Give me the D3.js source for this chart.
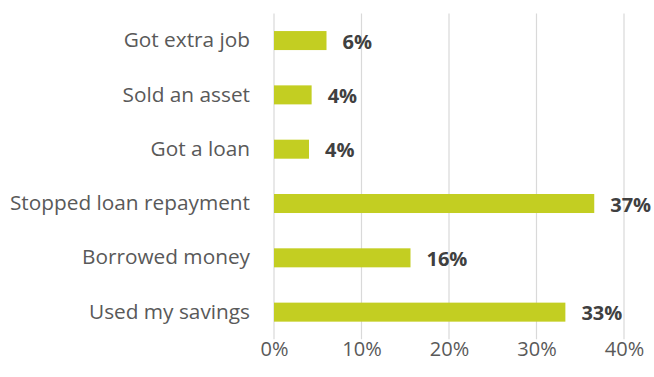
<!DOCTYPE html>
<html>
<head>
<meta charset="utf-8">
<script src="https://cdn.jsdelivr.net/npm/d3@7"></script>
<style>
  html, body { margin: 0; padding: 0; background: #fff; }
  svg { display: block; }
  text { font-family: "Open Sans", Lato, sans-serif; }
</style>
</head>
<body>
<svg id="chart" width="654" height="377"></svg>
<script>
// Coping strategies, share of respondents (%)
const categories = [
  "Got extra job",
  "Sold an asset",
  "Got a loan",
  "Stopped loan repayment",
  "Borrowed money",
  "Used my savings"
];
const values = [6.0, 4.3, 4.0, 36.6, 15.6, 33.3];
const tickValues = [0, 10, 20, 30, 40];

const svg = d3.select("#chart");
const plot = { left: 274, right: 624, top: 13.4, bottom: 339.3 };

const x = d3.scaleLinear().domain([0, 40]).range([plot.left, plot.right]);
const y = d3.scaleBand()
  .domain(categories)
  .range([plot.top, plot.bottom])
  .paddingInner(0.65)
  .paddingOuter(0.325);

// vertical gridlines
svg.append("g")
  .selectAll("line")
  .data(tickValues)
  .join("line")
  .attr("x1", d => x(d)).attr("x2", d => x(d))
  .attr("y1", plot.top).attr("y2", plot.bottom)
  .attr("stroke", "#d9d9d9")
  .attr("stroke-width", 1.2);

// x-axis tick labels
const xAxis = d3.axisBottom(x)
  .tickValues(tickValues)
  .tickFormat(d => d + "%")
  .tickSize(0)
  .tickPadding(0);
const gx = svg.append("g")
  .attr("transform", `translate(0,${plot.bottom})`)
  .call(xAxis);
gx.select(".domain").remove();
gx.selectAll("text")
  .attr("dy", null)
  .attr("y", 17)
  .attr("fill", "#595959")
  .style("font-size", "20px");

// category labels
const yAxis = d3.axisLeft(y).tickSize(0).tickPadding(0);
const gy = svg.append("g")
  .attr("transform", `translate(${plot.left - 24},0)`)
  .call(yAxis);
gy.select(".domain").remove();
gy.selectAll("text")
  .attr("fill", "#595959")
  .style("font-size", "20.8px");

// bars
svg.append("g")
  .selectAll("rect")
  .data(values)
  .join("rect")
  .attr("x", x(0))
  .attr("y", (d, i) => y(categories[i]))
  .attr("width", d => x(d) - x(0))
  .attr("height", y.bandwidth())
  .attr("fill", "#c3ce22");

// value labels
svg.append("g")
  .selectAll("text")
  .data(values)
  .join("text")
  .attr("x", d => x(d) + 16)
  .attr("y", (d, i) => y(categories[i]) + y.bandwidth() / 2)
  .attr("dy", "0.4em")
  .attr("fill", "#404040")
  .style("font-size", "20px")
  .style("font-weight", "bold")
  .text(d => d3.format(".0f")(d) + "%");
</script>
</body>
</html>
